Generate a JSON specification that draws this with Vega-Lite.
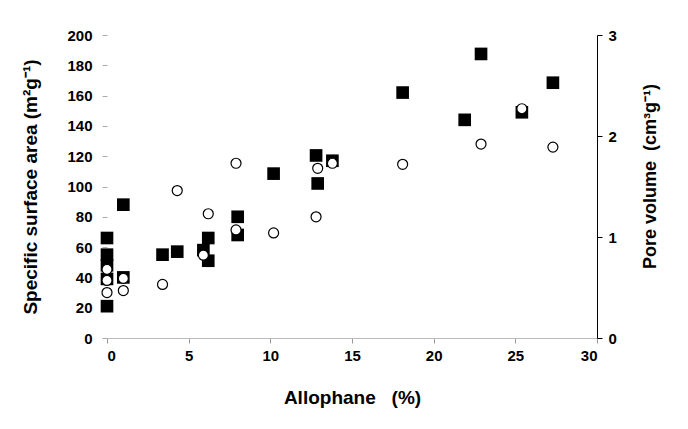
{
  "$schema": "https://vega.github.io/schema/vega-lite/v6.json",
  "width": 490,
  "height": 303,
  "autosize": {"type": "none"},
  "padding": {"left": 107, "top": 35, "right": 91, "bottom": 91},
  "background": "white",
  "config": {
    "view": {"stroke": null},
    "font": "Liberation Sans",
    "axis": {"grid": false, "labelFont": "Liberation Sans", "labelFontWeight": "bold", "labelFontSize": 15, "labelColor": "black", "titleFont": "Liberation Sans", "titleFontWeight": "bold", "titleFontSize": 18, "titleColor": "black"}
  },
  "datasets": {
    "ssa": [
      {"allophane": 0, "ssa": 66},
      {"allophane": 0, "ssa": 55},
      {"allophane": 0, "ssa": 48},
      {"allophane": 0, "ssa": 39},
      {"allophane": 0, "ssa": 21},
      {"allophane": 1, "ssa": 40},
      {"allophane": 1, "ssa": 88},
      {"allophane": 3.4, "ssa": 55},
      {"allophane": 4.3, "ssa": 57},
      {"allophane": 5.9, "ssa": 58},
      {"allophane": 6.2, "ssa": 51},
      {"allophane": 6.2, "ssa": 66},
      {"allophane": 8, "ssa": 80},
      {"allophane": 8, "ssa": 68},
      {"allophane": 10.2, "ssa": 108.5},
      {"allophane": 12.8, "ssa": 120.5},
      {"allophane": 12.9, "ssa": 102},
      {"allophane": 13.8, "ssa": 117},
      {"allophane": 18.1, "ssa": 162},
      {"allophane": 21.9, "ssa": 144},
      {"allophane": 22.9, "ssa": 187.5},
      {"allophane": 25.4, "ssa": 149},
      {"allophane": 27.3, "ssa": 168.5}
    ],
    "pv": [
      {"allophane": 0, "pv": 0.68},
      {"allophane": 0, "pv": 0.57},
      {"allophane": 0, "pv": 0.45},
      {"allophane": 1, "pv": 0.59},
      {"allophane": 1, "pv": 0.47},
      {"allophane": 3.4, "pv": 0.53},
      {"allophane": 4.3, "pv": 1.46},
      {"allophane": 5.9, "pv": 0.82},
      {"allophane": 6.2, "pv": 1.23},
      {"allophane": 7.9, "pv": 1.07},
      {"allophane": 7.9, "pv": 1.73},
      {"allophane": 10.2, "pv": 1.04},
      {"allophane": 12.8, "pv": 1.2},
      {"allophane": 12.9, "pv": 1.68},
      {"allophane": 13.8, "pv": 1.73},
      {"allophane": 18.1, "pv": 1.72},
      {"allophane": 22.9, "pv": 1.92},
      {"allophane": 25.4, "pv": 2.27},
      {"allophane": 27.3, "pv": 1.89}
    ]
  },
  "layer": [
    {
      "data": {"name": "ssa"},
      "mark": {"type": "point", "shape": "square", "filled": true, "color": "black", "size": 160, "opacity": 1},
      "encoding": {
        "x": {"field": "allophane", "type": "quantitative", "scale": {"domain": [0, 30], "nice": false},
          "axis": {"title": "Allophane\u00a0\u00a0\u00a0(%)", "titleFontSize": 19, "values": [0, 5, 10, 15, 20, 25, 30], "domainColor": "#bbbbbb", "tickColor": "#999999", "tickSize": 5, "labelPadding": 5, "titlePadding": 25}},
        "y": {"field": "ssa", "type": "quantitative", "scale": {"domain": [0, 200], "nice": false},
          "axis": {"title": "Specific surface area (m²g⁻¹)", "titleFontSize": 19, "orient": "left", "values": [0, 20, 40, 60, 80, 100, 120, 140, 160, 180, 200], "domain": false, "tickColor": "#aaaaaa", "tickSize": 5, "labelPadding": 10, "titlePadding": 26}}
      }
    },
    {
      "data": {"name": "pv"},
      "mark": {"type": "point", "shape": "circle", "filled": true, "fill": "white", "stroke": "black", "strokeWidth": 1.2, "size": 100, "opacity": 1},
      "encoding": {
        "x": {"field": "allophane", "type": "quantitative", "scale": {"domain": [0, 30], "nice": false}},
        "y": {"field": "pv", "type": "quantitative", "scale": {"domain": [0, 3], "nice": false},
          "axis": {"title": "Pore volume\u00a0\u00a0(cm³g⁻¹)", "titleAngle": 270, "titleY": 141, "orient": "right", "values": [0, 1, 2, 3], "domainColor": "black", "tickColor": "black", "tickSize": 5, "labelPadding": 6, "titlePadding": 43}}
      }
    }
  ],
  "resolve": {"scale": {"y": "independent"}}
}
